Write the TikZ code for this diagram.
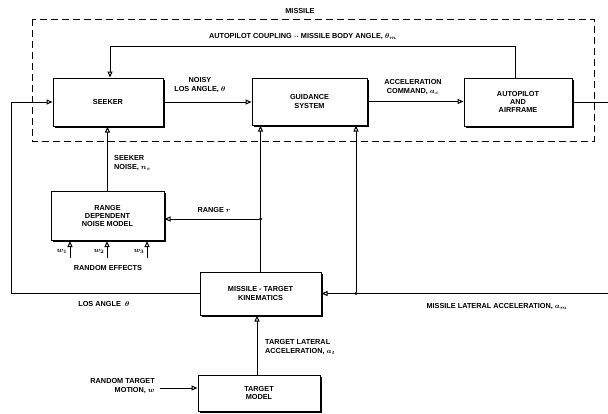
\documentclass[tikz,border=0pt]{standalone}
\usepackage{fontspec}
\setmainfont{Liberation Sans}
\usepackage{tikz}
\usetikzlibrary{arrows.meta,positioning,shadows}
\tikzset{
  blk/.style={draw,line width=1pt,fill=white,align=center,font=\bfseries\boldmath\fontsize{7.3}{8.3}\selectfont,
    drop shadow={shadow xshift=1.8pt,shadow yshift=-1.8pt,fill=black,opacity=1}},
  ar/.style={-{Triangle[open,length=6pt,width=5pt]},line width=1pt},
  ln/.style={line width=1pt},
  lbl/.style={font=\bfseries\boldmath\fontsize{7.3}{8.3}\selectfont,align=center,inner sep=1pt},
  jdot/.style={circle,fill=black,inner sep=1.2pt},
}

\begin{document}
\begin{tikzpicture}[x=1pt,y=-1pt]
  \useasboundingbox (0,0) rectangle (608,413);
  % missile boundary
  \draw[line width=0.9pt,dash pattern=on 7pt off 4pt] (32,19) rectangle (594,141);
  \node[lbl] (mslbl) at (300,11) {MISSILE};

  % blocks
  \node[blk,minimum width=110pt,minimum height=48pt] (seeker) at (108,102) {SEEKER};
  \node[blk,minimum width=115pt,minimum height=47pt] (guid) at (309.5,101.5) {GUIDANCE\\SYSTEM};
  \node[blk,minimum width=108pt,minimum height=48pt] (auto) at (518,102) {AUTOPILOT\\AND\\AIRFRAME};
  \node[blk,minimum width=113pt,minimum height=49pt] (noise) at (107.5,216) {RANGE\\DEPENDENT\\NOISE MODEL};
  \node[blk,minimum width=121pt,minimum height=43pt] (kin) at (260.5,293.5) {MISSILE - TARGET\\KINEMATICS};
  \node[blk,minimum width=122pt,minimum height=36pt] (tgt) at (259,393) {TARGET\\MODEL};

  % free ends and junctions
  \coordinate (cpl) at (110,46);
  \coordinate (losl) at (11,293.5);
  \coordinate (aout) at (608,102);
  \coordinate (mout) at (608,293.5);
  \coordinate (wt) at (160,388);
  \coordinate (w1) at (70,258);
  \coordinate (w2) at (107,258);
  \coordinate (w3) at (147,258);
  \node[jdot] (rj) at (260.5,219) {};
  \node[jdot] (mj) at (356,293.5) {};

  % forward path
  \draw[ar] (seeker.east) -- (seeker.east -| guid.west);
  \draw[ar] (guid.east) -- (guid.east -| auto.west);
  \draw[ln] (auto.east) -- (aout);
  \draw[ar] ([xshift=-3pt]auto.north) |- (cpl) -- (cpl |- seeker.north);

  % feedback paths
  \draw[ar] (kin.west) -- (losl) |- (seeker.west);
  \draw[ar] (noise.north) -- (noise.north |- seeker.south);
  \draw[ar] (kin.north) -- (kin.north |- guid.south);
  \draw[ar] (rj) -- (rj -| noise.east);
  \draw[ar] (mout) -- (kin.east);
  \draw[ar] (mj) -- (mj |- guid.south);
  \draw[ar] ([xshift=-2pt]tgt.north) -- ([xshift=-2pt]tgt.north |- kin.south);
  \draw[ar] (wt) -- (wt -| tgt.west);
  \foreach \w in {w1,w2,w3}
    \draw[ar] (\w) -- (\w |- noise.south);

  % labels
  \node[lbl] (cpllbl) at (303,37) {AUTOPILOT COUPLING $\cdot\cdot$ MISSILE BODY ANGLE, $\theta_m$};
  \node[lbl] (noisylbl) at (200,85) {NOISY\\LOS ANGLE, $\theta$};
  \node[lbl] (acclbl) at (413,87) {ACCELERATION\\COMMAND, $a_c$};
  \node[lbl,anchor=west,align=left] (snlbl) at (113,163) {SEEKER\\NOISE, $n_s$};
  \node[lbl] (rnglbl) at (214,210) {RANGE $r$};
  \node[lbl] (w1lbl) at (62,251) {$w_1$};
  \node[lbl] (w2lbl) at (99,251) {$w_2$};
  \node[lbl] (w3lbl) at (139,251) {$w_3$};
  \node[lbl] (relbl) at (108,268) {RANDOM EFFECTS};
  \node[lbl] (loslbl) at (104,304) {LOS ANGLE \ $\theta$};
  \node[lbl] (mlalbl) at (497,307) {MISSILE LATERAL ACCELERATION, $a_m$};
  \node[lbl,anchor=west,align=left] (tlalbl) at (264,347) {TARGET LATERAL\\ACCELERATION, $a_t$};
  \node[lbl,anchor=east,align=right] (rtmlbl) at (156,386) {RANDOM TARGET\\MOTION, $w$};
\end{tikzpicture}
\end{document}
